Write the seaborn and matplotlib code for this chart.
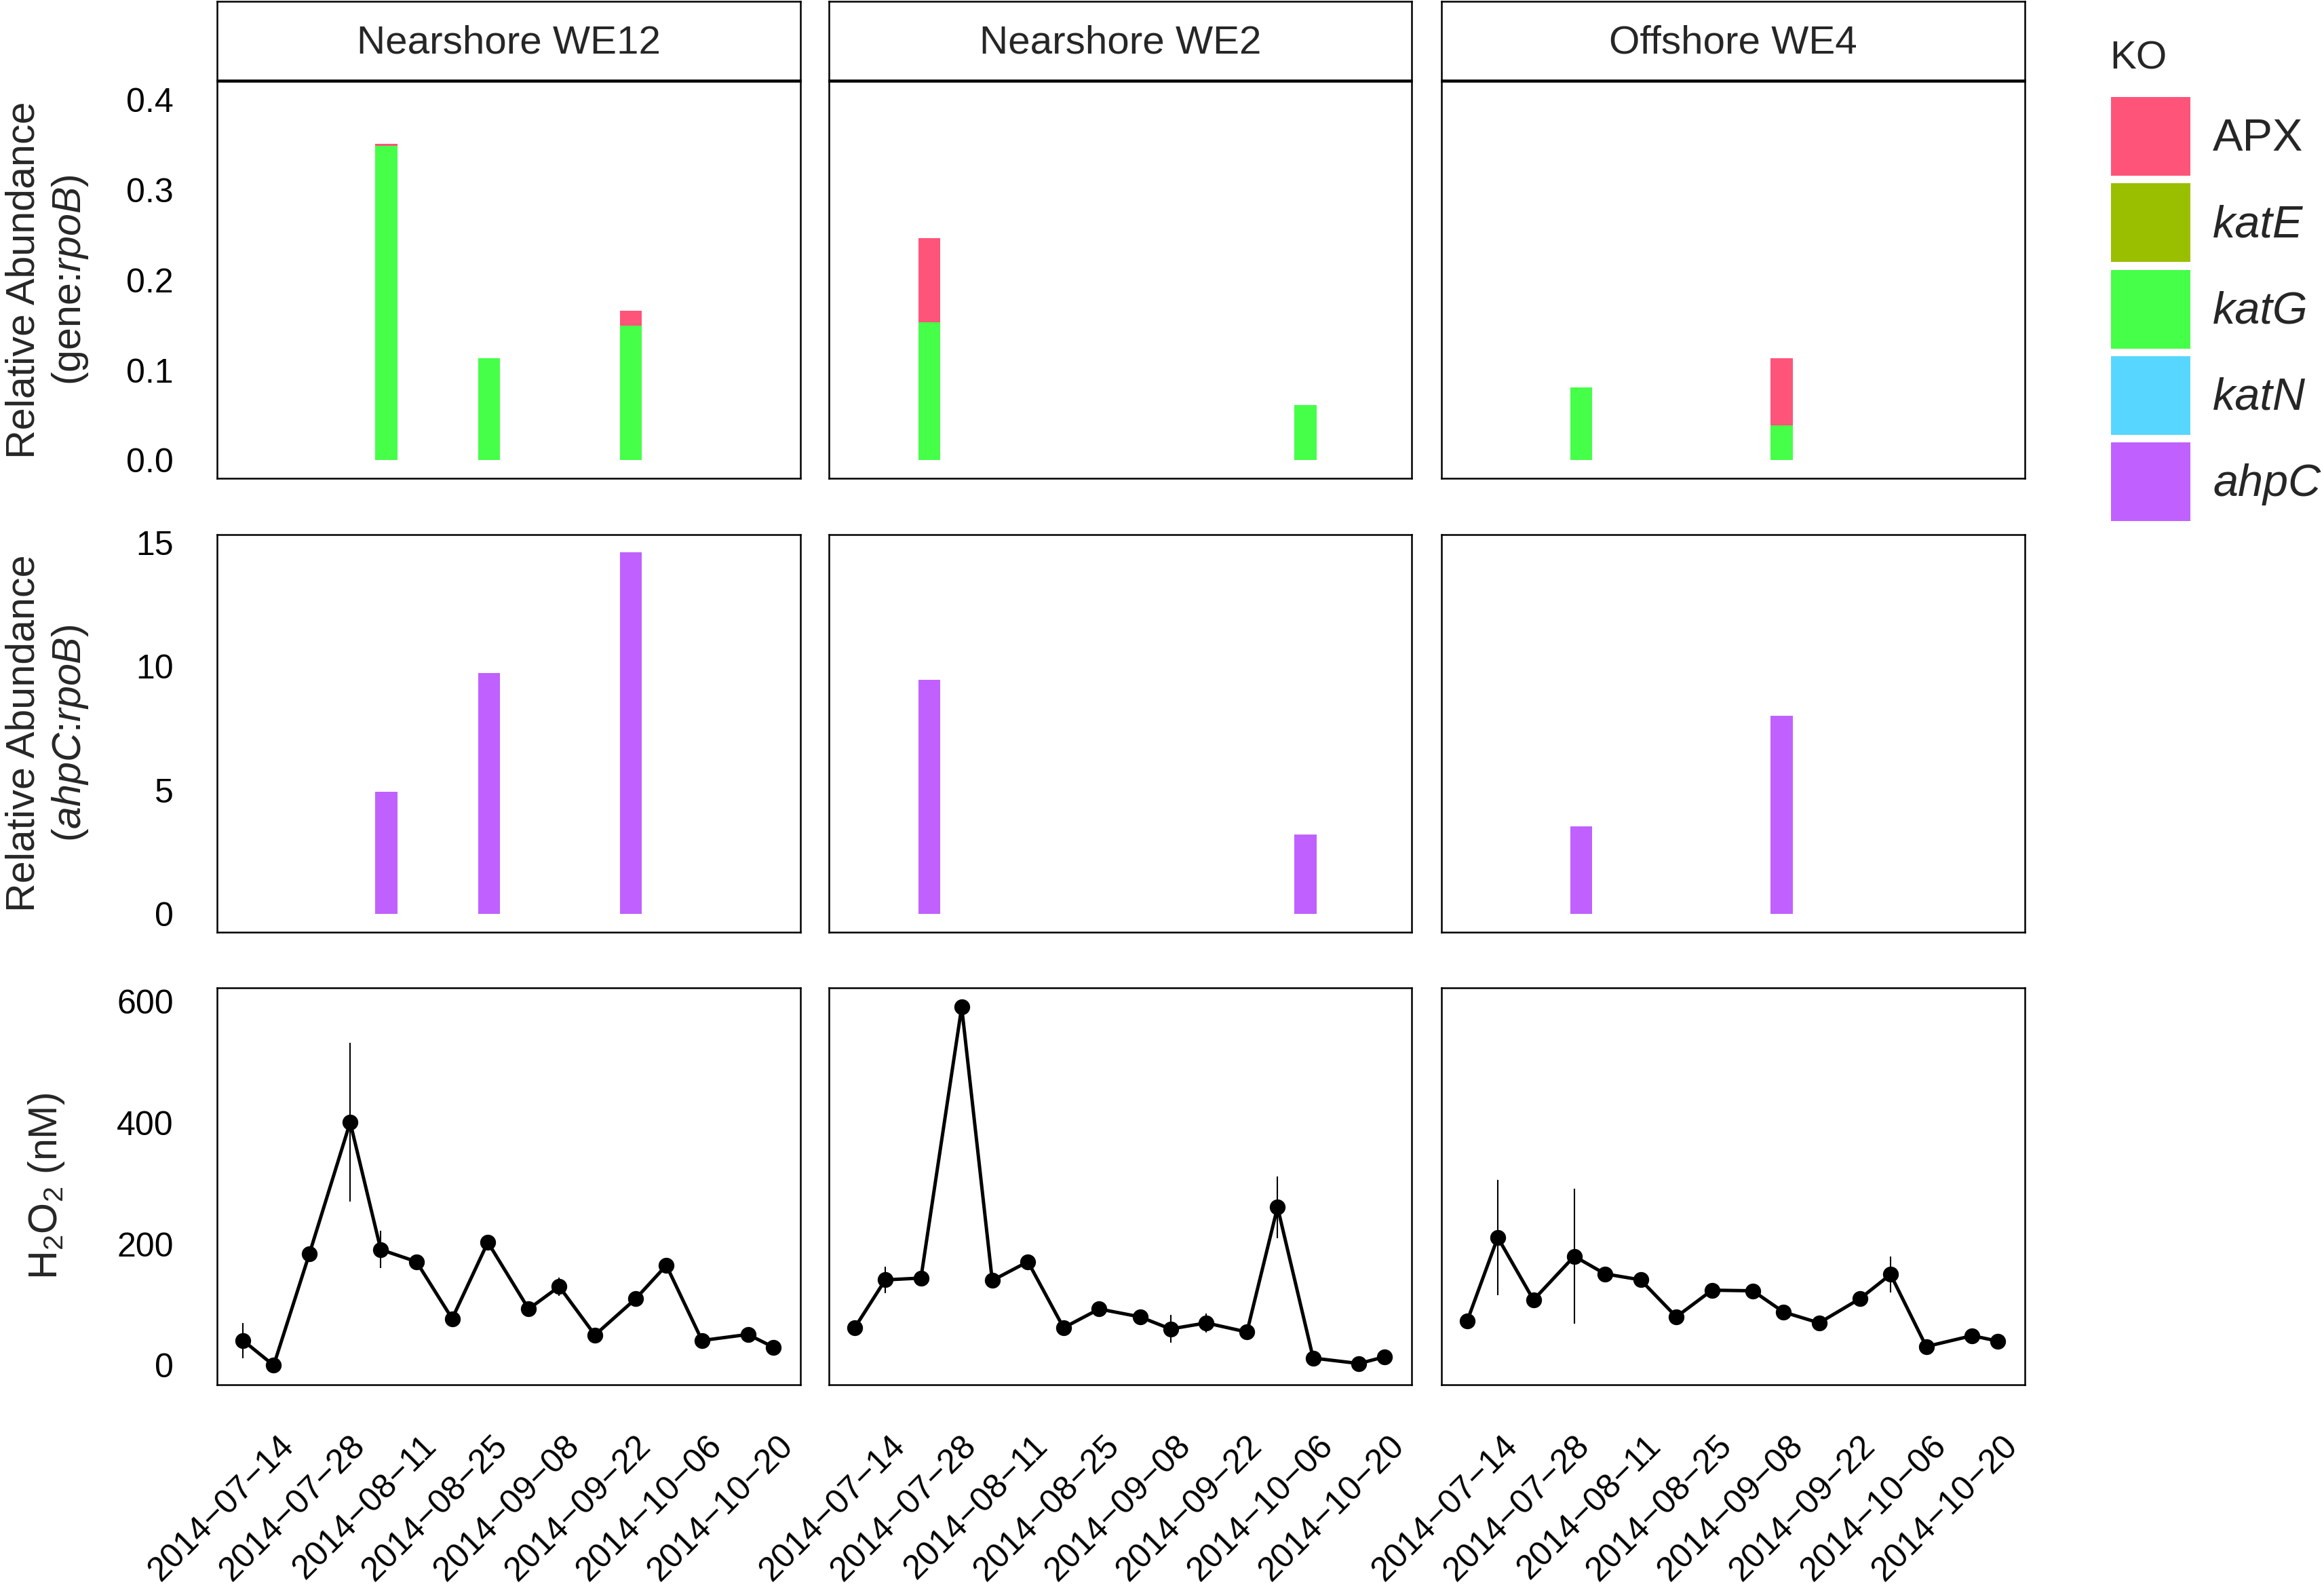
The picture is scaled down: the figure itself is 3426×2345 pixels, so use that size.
import matplotlib
matplotlib.use('Agg')
import matplotlib.pyplot as plt
from matplotlib.patches import Patch
from matplotlib.transforms import ScaledTranslation
import seaborn as sns
import numpy as np
import pandas as pd

# ---- data -------------------------------------------------------------
sites = ['Nearshore WE12', 'Nearshore WE2', 'Offshore WE4']
ko_names = ['APX', 'katE', 'katG', 'katN', 'ahpC']
ko_colors = ['#FF5479', '#99BF00', '#45FF49', '#57D7FF', '#C061FF']

# metagenome samples: gene:rpoB ratios
we12_bar_dates = ['2014-08-04', '2014-08-25', '2014-09-23']
we12_katG = [0.349, 0.113, 0.149]
we12_APX = [0.002, 0.0, 0.017]
we12_ahpC = [4.93, 9.74, 14.61]

we2_bar_dates = ['2014-07-21', '2014-10-06']
we2_katG = [0.153, 0.061]
we2_APX = [0.093, 0.0]
we2_ahpC = [9.45, 3.22]

we4_bar_dates = ['2014-07-29', '2014-09-08']
we4_katG = [0.081, 0.039]
we4_APX = [0.0, 0.074]
we4_ahpC = [3.55, 8.02]

# H2O2 time series (nM), mean and sd
h2o2_dates = ['2014-07-08', '2014-07-14', '2014-07-21', '2014-07-29', '2014-08-04',
              '2014-08-11', '2014-08-18', '2014-08-25', '2014-09-02', '2014-09-08',
              '2014-09-15', '2014-09-23', '2014-09-29', '2014-10-06', '2014-10-15',
              '2014-10-20']
we12_h2o2 = [41, 0, 184, 401, 191, 171, 77, 203, 93, 130, 50, 110, 165, 41, 51, 30]
we12_sd = [29, 0, 0, 131, 31, 0, 0, 0, 0, 15, 3, 0, 0, 5, 0, 0]
we2_h2o2 = [62, 141, 144, 591, 140, 171, 62, 93, 80, 60, 70, 55, 261, 12, 3, 14]
we2_sd = [0, 22, 0, 0, 0, 0, 0, 0, 0, 23, 16, 0, 51, 0, 0, 0]
we4_h2o2 = [73, 211, 108, 180, 151, 141, 80, 124, 123, 88, 70, 110, 150, 31, 49, 40]
we4_sd = [0, 95, 0, 111, 0, 0, 0, 0, 0, 0, 0, 0, 30, 0, 0, 0]

tick_dates = ['2014-07-14', '2014-07-28', '2014-08-11', '2014-08-25',
              '2014-09-08', '2014-09-22', '2014-10-06', '2014-10-20']
tick_labels = ['2014\u221207\u221214', '2014\u221207\u221228', '2014\u221208\u221211',
               '2014\u221208\u221225', '2014\u221209\u221208', '2014\u221209\u221222',
               '2014\u221210\u221206', '2014\u221210\u221220']

origin = pd.Timestamp('2014-07-14')


def to_days(dates):
    return (pd.to_datetime(dates) - origin).days.values


bars = pd.concat([
    pd.DataFrame({'site': s, 'day': to_days(d), 'katG': k, 'APX': a, 'ahpC': c})
    for s, d, k, a, c in [
        (sites[0], we12_bar_dates, we12_katG, we12_APX, we12_ahpC),
        (sites[1], we2_bar_dates, we2_katG, we2_APX, we2_ahpC),
        (sites[2], we4_bar_dates, we4_katG, we4_APX, we4_ahpC),
    ]
])
bars['total'] = bars['katG'] + bars['APX']

h2o2 = pd.concat([
    pd.DataFrame({'site': s, 'day': to_days(h2o2_dates), 'h2o2': v, 'sd': e})
    for s, v, e in [(sites[0], we12_h2o2, we12_sd),
                    (sites[1], we2_h2o2, we2_sd),
                    (sites[2], we4_h2o2, we4_sd)]
])
tick_days = to_days(tick_dates)

# ---- style ------------------------------------------------------------
sns.set_theme(style='white')
plt.rcParams['font.family'] = ['Liberation Sans', 'DejaVu Sans']
plt.rcParams['mathtext.fontset'] = 'custom'
plt.rcParams['mathtext.rm'] = 'Liberation Sans'
plt.rcParams['mathtext.it'] = 'Liberation Sans:italic'
plt.rcParams['axes.edgecolor'] = 'black'
plt.rcParams['axes.linewidth'] = 0.6

W, H = 3426, 2345
fig = plt.figure(figsize=(W / 300, H / 300), dpi=300)


def rect(x0, x1, y0, y1):
    return [x0 / W, 1 - y1 / H, (x1 - x0) / W, (y1 - y0) / H]


col_x = [(320, 1180), (1221.7, 2080.8), (2124.5, 2984.8)]
row_y = [(120.2, 705), (788.4, 1374), (1455.8, 2041)]
bar_xlim = (-13.6, 105.7)
line_xlim = (-11.1, 103.3)
ylims = [(-0.02, 0.42), (-0.74, 15.32), (-32, 623)]
yticks = [[0, 0.1, 0.2, 0.3, 0.4], [0, 5, 10, 15], [0, 200, 400, 600]]
yticklabels = [['0.0', '0.1', '0.2', '0.3', '0.4'], ['0', '5', '10', '15'],
               ['0', '200', '400', '600']]
bar_days = 4.5

for j, site in enumerate(sites):
    b = bars[bars['site'] == site]
    w = bar_days / np.diff(np.sort(b['day'].values)).min()
    h = h2o2[h2o2['site'] == site]

    # strip
    sax = fig.add_axes(rect(col_x[j][0], col_x[j][1], 2.3, 118.3))
    sax.set_xticks([])
    sax.set_yticks([])
    for sp in sax.spines.values():
        sp.set_linewidth(0.6)
    sax.text(0.5, 0.47, site, ha='center', va='center', fontsize=14,
             transform=sax.transAxes)

    axes = [fig.add_axes(rect(col_x[j][0], col_x[j][1], *row_y[i])) for i in range(3)]

    # row 1: stacked APX on katG
    sns.barplot(data=b, x='day', y='total', native_scale=True, orient='x', width=w,
                color=ko_colors[0], saturation=1, errorbar=None, linewidth=0, ax=axes[0])
    sns.barplot(data=b, x='day', y='katG', native_scale=True, orient='x', width=w,
                color=ko_colors[2], saturation=1, errorbar=None, linewidth=0, ax=axes[0])

    # row 2: ahpC
    sns.barplot(data=b, x='day', y='ahpC', native_scale=True, orient='x', width=w,
                color=ko_colors[4], saturation=1, errorbar=None, linewidth=0, ax=axes[1])

    # row 3: H2O2
    sns.lineplot(data=h, x='day', y='h2o2', color='black', marker='o', markersize=5.6,
                 markeredgewidth=0, linewidth=1.2, errorbar=None, ax=axes[2])
    axes[2].errorbar(h['day'], h['h2o2'], yerr=h['sd'], fmt='none', ecolor='black',
                     elinewidth=0.5, capsize=0)

    for i, ax in enumerate(axes):
        ax.set_xlim(bar_xlim if i < 2 else line_xlim)
        ax.set_ylim(ylims[i])
        ax.set_xlabel('')
        ax.set_ylabel('')
        ax.set_xticks(tick_days)
        ax.set_yticks(yticks[i])
        ax.tick_params(axis='both', direction='in', length=2.8, width=0.6,
                       color='#333333', labelsize=12, labelcolor='black')
        ax.tick_params(axis='y', pad=15.4)
        for sp in ax.spines.values():
            sp.set_visible(True)
            sp.set_color('black')
            sp.set_linewidth(0.6)
        if j == 0:
            ax.set_yticklabels(yticklabels[i])
        else:
            ax.tick_params(axis='y', left=False, labelleft=False)
        if i < 2:
            ax.tick_params(axis='x', labelbottom=False)
        else:
            ax.set_xticklabels(tick_labels, rotation=45, ha='right', va='top',
                               rotation_mode='anchor')
            ax.tick_params(axis='x', pad=16)
            for lab in ax.get_xticklabels():
                lab.set_transform(lab.get_transform() +
                                  ScaledTranslation(6 / 300, 0, fig.dpi_scale_trans))

# y axis titles
fig.text(70 / W, 1 - 412.6 / H, 'Relative Abundance\n(gene:$\\mathit{rpoB}$)',
         rotation=90, ha='center', va='center', fontsize=14.2, linespacing=1.25)
fig.text(70 / W, 1 - 1081 / H, 'Relative Abundance\n($\\mathit{ahpC}$:$\\mathit{rpoB}$)',
         rotation=90, ha='center', va='center', fontsize=14.2, linespacing=1.25)
fig.text(68 / W, 1 - 1748 / H, 'H$_2$O$_2$ (nM)', rotation=90, ha='center',
         va='center', fontsize=14.2)

# legend
fig.text(3110 / W, 1 - 102 / H, 'KO', ha='left', va='baseline', fontsize=14)
handles = [Patch(facecolor=c, edgecolor='none') for c in ko_colors]
leg = fig.legend(handles, ko_names, loc='upper left',
                 bbox_to_anchor=(3112 / W, 1 - 143 / H), frameon=False,
                 fontsize=16, handlelength=1.75, handleheight=2.3,
                 handletextpad=0.5, labelspacing=0.17, borderpad=0, borderaxespad=0)
for name, t in zip(ko_names, leg.get_texts()):
    if name != 'APX':
        t.set_fontstyle('italic')

fig.savefig('out.png', dpi=300)
